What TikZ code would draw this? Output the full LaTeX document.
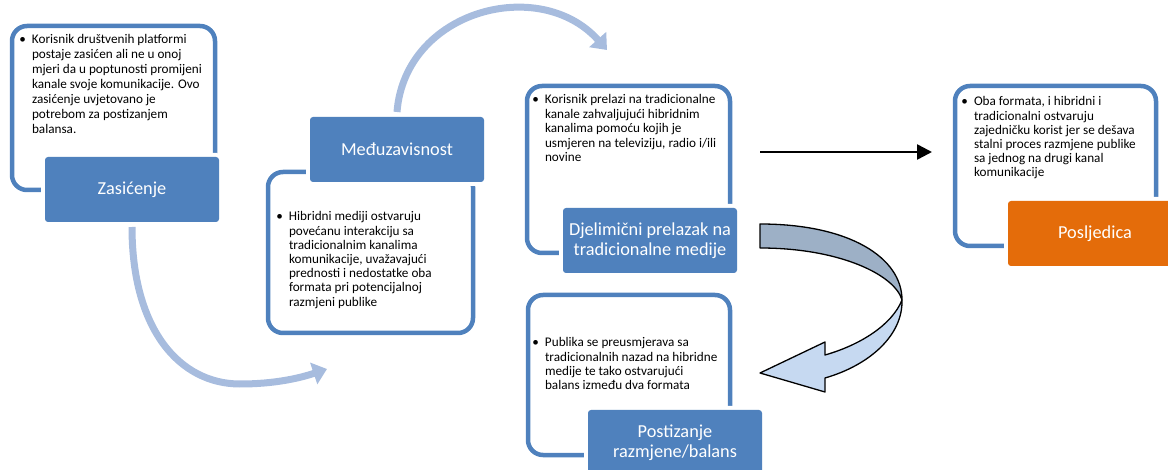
\documentclass[tikz,border=0pt]{standalone}
\usepackage{fontspec}
\setmainfont{Carlito}
\usetikzlibrary{arrows.meta}

\definecolor{accent}{HTML}{4F81BD}
\definecolor{orangeacc}{HTML}{E46C0A}
\definecolor{flow}{RGB}{167,188,222}
\definecolor{turntop}{RGB}{157,176,198}
\definecolor{turnlow}{RGB}{198,217,241}

% bullet hung to the left of the first line, with a fixed first-line height
\newcommand\bul{\llap{\textbullet\hskip 6pt}\rule{0pt}{10pt}}

\begin{document}
\begin{tikzpicture}[x=1pt,y=-1pt,
  frame/.style={draw=accent, line width=4.5pt, rounded corners=15pt,
    inner sep=0pt, outer sep=0pt, anchor=north west},
  label/.style={fill=accent, text=white, font=\fontsize{18.3}{20}\selectfont,
    align=center, rounded corners=3pt, inner sep=0pt, outer sep=0pt,
    anchor=north west, minimum width=174pt, minimum height=65pt,
    preaction={draw=white, line width=8pt}},
  txt/.style={anchor=north west, inner sep=0pt, outer sep=0pt, align=left},
  flowarrow/.style={draw=flow, line width=7pt,
    -{Triangle[width=22pt,length=14pt]}},
  turn/.style={draw=black, line width=1.3pt, line join=round}
]
\useasboundingbox (0,0) rectangle (1168,470);

% outline frames
\node[frame, minimum width=203pt, minimum height=164pt] (f1) at (12,26) {};
\node[frame, minimum width=205pt, minimum height=161pt] (f2) at (268,172) {};
\node[frame, minimum width=203pt, minimum height=167pt] (f3) at (527,86) {};
\node[frame, minimum width=201pt, minimum height=160pt] (f4) at (955,86) {};
\node[frame, minimum width=202pt, minimum height=160pt] (f5) at (528,295) {};

% frame texts
\node[txt, font=\fontsize{13.2}{15}\selectfont] (t1) at (32,34) {\bul Korisnik društvenih platformi\\
postaje zasićen ali ne u onoj\\
mjeri da u poptunosti promijeni\\
kanale svoje komunikacije. Ovo\\
zasićenje uvjetovano je\\
potrebom za postizanjem\\
balansa.};

\node[txt, font=\fontsize{13.2}{14.2}\selectfont] (t2) at (289,211) {\bul Hibridni mediji ostvaruju\\
povećanu interakciju sa\\
tradicionalnim kanalima\\
komunikacije, uvažavajući\\
prednosti i nedostatke oba\\
formata pri potencijalnoj\\
razmjeni publike};

\node[txt, font=\fontsize{13.2}{14.4}\selectfont] (t3) at (545,94) {\bul Korisnik prelazi na tradicionalne\\
kanale zahvaljujući hibridnim\\
kanalima pomoću kojih je\\
usmjeren na televiziju, radio i/ili\\
novine};

\node[txt, font=\fontsize{13.2}{14.2}\selectfont] (t4) at (974,96) {\bul Oba formata, i hibridni i\\
tradicionalni ostvaruju\\
zajedničku korist jer se dešava\\
stalni proces razmjene publike\\
sa jednog na drugi kanal\\
komunikacije};

\node[txt, font=\fontsize{13.2}{14.2}\selectfont] (t5) at (545,337) {\bul Publika se preusmjerava sa\\
tradicionalnih nazad na hibridne\\
medije te tako ostvarujući\\
balans između dva formata};

% title boxes
\node[label] (zas) at (45,157) {Zasićenje};
\node[label] (mdz) at (310,117) {Međuzavisnost};
\node[label] (djel) at (563,208) {Djelimični prelazak na\\tradicionalne medije};
\node[label, fill=orangeacc] (posl) at (1008,201) {Posljedica};
\node[label] (post) at (588,410) {Postizanje\\razmjene/balans};

% connector end points
\coordinate (a1) at (327,369);
\coordinate (a2) at (607,50);
\coordinate (b1) at (760,152);
\coordinate (b2) at (932,152);

% curved flow arrows
\draw[flowarrow] ([yshift=-5pt]zas.south)
  .. controls (132,330) and (180,384) .. (240,384)
  .. controls (275,384) and (300,378) .. (a1);
\draw[flowarrow] ([yshift=5pt]mdz.north)
  .. controls (405,10) and (540,-25) .. (a2);

% straight arrow towards the consequence
\draw[line width=2.5pt, -{Triangle[width=15pt,length=15pt]}] (b1) -- (b2);

% U-turn arrow: lower band with head, then upper band
\filldraw[turn, fill=turnlow] (902,300)
  .. controls (903,335) and (870,365) .. (825,378)
  -- (825,392) -- (760,373) -- (825,342) -- (825,355)
  .. controls (860,345) and (892,325) .. (902,300) -- cycle;
\filldraw[turn, fill=turntop] (760,224)
  .. controls (850,224) and (902,258) .. (902,300)
  .. controls (895,275) and (840,248) .. (760,248) -- cycle;
\end{tikzpicture}
\end{document}
